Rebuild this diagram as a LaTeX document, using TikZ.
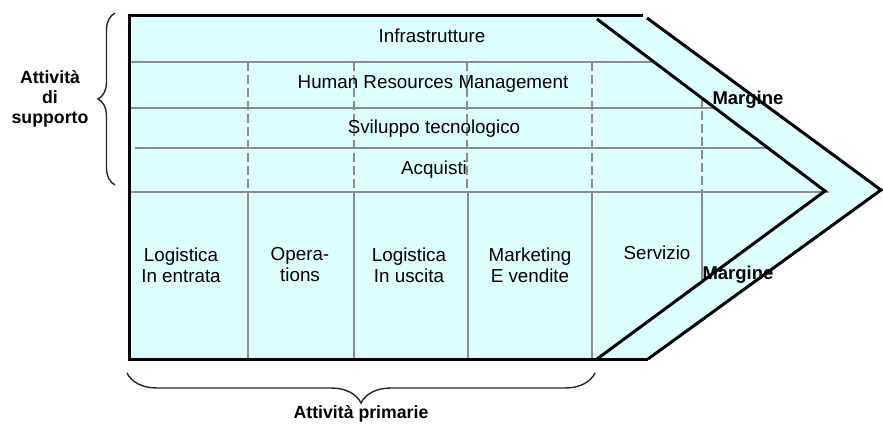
\documentclass[tikz,border=0pt]{standalone}
\usepackage{fontspec}
\setmainfont{Liberation Sans}
\usetikzlibrary{decorations.pathreplacing}
\definecolor{vcfill}{RGB}{221,255,255}
\definecolor{vcgrid}{RGB}{140,140,140}
\begin{document}
\begin{tikzpicture}[x=1pt,y=-1pt,
  grid/.style={draw=vcgrid, line width=1.6pt},
  dgrid/.style={grid, dash pattern=on 9pt off 4pt},
  outline/.style={draw=black, line width=3pt},
  txt/.style={inner sep=0pt, font=\fontsize{18.8}{21}\selectfont, align=center},
  one/.style={txt, text height=13.5pt, text depth=0pt},
  boldtxt/.style={inner sep=0pt, font=\bfseries\fontsize{17.7}{20}\selectfont, align=center},
  boldone/.style={boldtxt, text height=12.7pt, text depth=0pt},
  brc/.style={draw=black!85, line width=1.4pt, decorate, decoration={brace, amplitude=#1}}
]
\useasboundingbox (0,0) rectangle (883,427);
% outline points
\coordinate (tl) at (129,16);
\coordinate (tr) at (643,16);
\coordinate (bl) at (129,359);
\coordinate (br) at (648,359);
\coordinate (iT) at (597,19);
\coordinate (iM) at (825,191);
\coordinate (iB) at (597,359);
\coordinate (oT) at (647,18);
\coordinate (oM) at (881,190);
\coordinate (oB) at (648,359);
% fill
\fill[vcfill] (tl) -- (645,16) -- (oM) -- (oB) -- (bl) -- cycle;
% horizontal grid lines
\draw[grid] (129,62) -- (654,62);
\draw[grid] (129,108) -- (715,108);
\draw[grid] (135,148) -- (768,148);
\draw[grid] (129,192) -- (829,192);
% dashed verticals (support activities)
\foreach \x in {248,354,467,592} { \draw[dgrid] (\x,62) -- (\x,192); }
\draw[dgrid] (702,98) -- (702,192);
% solid verticals (primary activities)
\foreach \x in {248,354,468,592} { \draw[grid] (\x,192) -- (\x,359); }
\draw[grid] (702,192) -- (702,282);
% black outline
\draw[outline] (tr) -- (tl) -- (bl) -- (br);
\draw[outline] (iT) -- (iM) -- (iB);
\draw[outline] (oT) -- (oM) -- (oB);
% texts
\node[one] (infra) at (432,36) {Infrastrutture};
\node[one] (hrm) at (433,82) {Human Resources Management};
\node[one] (svil) at (434,127) {Sviluppo tecnologico};
\node[one] (acq) at (434,168) {Acquisti};
\node[txt] (login) at (181,265) {Logistica\\In entrata};
\node[txt] (oper) at (300,265) {Opera-\\tions};
\node[txt] (logout) at (409,265) {Logistica\\In uscita};
\node[txt] (mkt) at (530,265) {Marketing\\E vendite};
\node[one] (serv) at (657,253) {Servizio};
\node[boldone, font=\bfseries\fontsize{18.5}{20}\selectfont] (marg1) at (748,98) {Margine};
\node[boldone, font=\bfseries\fontsize{18.5}{20}\selectfont] (marg2) at (738,273) {Margine};
\node[boldtxt] (supp) at (50,99) {Attività\\di\\supporto};
\node[boldone] (prim) at (361,412) {Attività primarie};
% braces
\coordinate (lbA) at (115,185);
\coordinate (lbB) at (115,13);
\coordinate (bbA) at (595,373);
\coordinate (bbB) at (127,373);
\draw[brc=17] (lbA) -- (lbB);
\draw[brc=30] (bbA) -- (bbB);
\end{tikzpicture}
\end{document}
